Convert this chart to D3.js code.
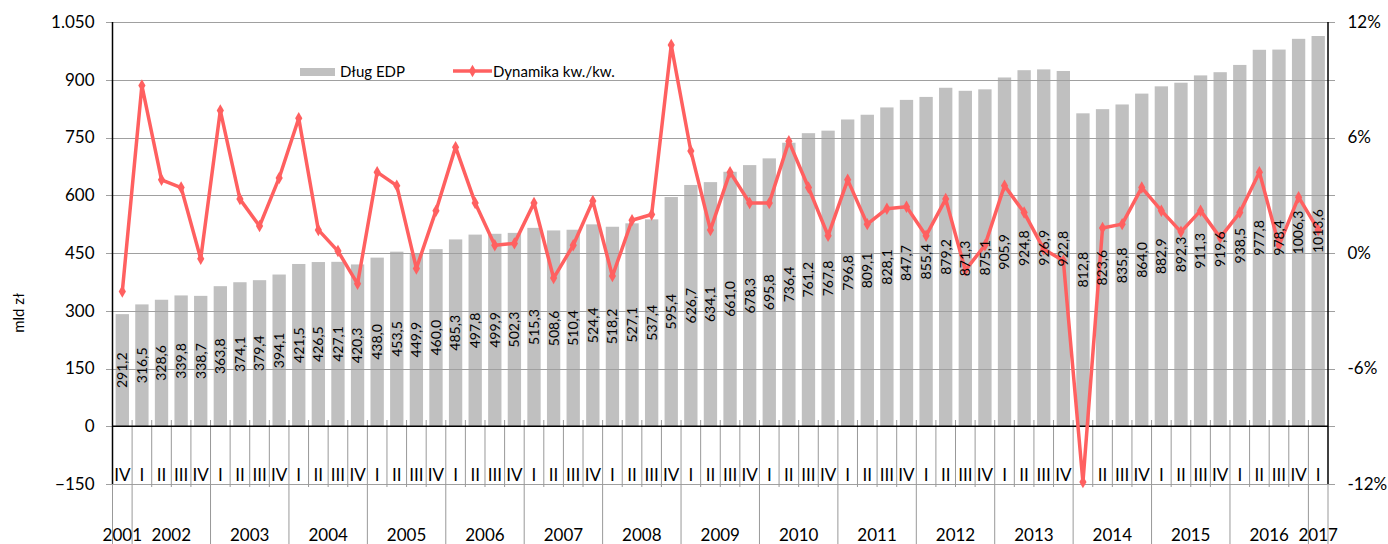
<!DOCTYPE html>
<html>
<head>
<meta charset="utf-8">
<script src="https://cdn.jsdelivr.net/npm/d3@7"></script>
<style>
  body { margin: 0; background: #fff; }
  text { font-family: Lato, "Open Sans", sans-serif; fill: #000; }
</style>
</head>
<body>
<div id="chart"></div>
<script>
// quarters, from 2001 IV to 2017 I
var quarters = ["IV",
  "I","II","III","IV", "I","II","III","IV", "I","II","III","IV", "I","II","III","IV",
  "I","II","III","IV", "I","II","III","IV", "I","II","III","IV", "I","II","III","IV",
  "I","II","III","IV", "I","II","III","IV", "I","II","III","IV", "I","II","III","IV",
  "I","II","III","IV", "I","II","III","IV", "I","II","III","IV",
  "I"];
var years = ["2001","2002","2003","2004","2005","2006","2007","2008","2009",
  "2010","2011","2012","2013","2014","2015","2016","2017"];
var yearLength = [1,4,4,4,4,4,4,4,4,4,4,4,4,4,4,4,1];

// Dług EDP, mld zł
var debt = [291.2, 316.5, 328.6, 339.8, 338.7, 363.8, 374.1, 379.4, 394.1, 421.5,
  426.5, 427.1, 420.3, 438.0, 453.5, 449.9, 460.0, 485.3, 497.8, 499.9,
  502.3, 515.3, 508.6, 510.4, 524.4, 518.2, 527.1, 537.4, 595.4, 626.7,
  634.1, 661.0, 678.3, 695.8, 736.4, 761.2, 767.8, 796.8, 809.1, 828.1,
  847.7, 855.4, 879.2, 871.3, 875.1, 905.9, 924.8, 926.9, 922.8, 812.8,
  823.6, 835.8, 864.0, 882.9, 892.3, 911.3, 919.6, 938.5, 977.8, 978.4,
  1006.3, 1013.6];

// Dynamika kw./kw., %
var dynamics = [-2.0, 8.7, 3.8, 3.4, -0.3, 7.4, 2.8, 1.4, 3.9, 7.0,
  1.2, 0.1, -1.6, 4.2, 3.5, -0.8, 2.2, 5.5, 2.6, 0.4,
  0.5, 2.6, -1.3, 0.4, 2.7, -1.2, 1.7, 2.0, 10.8, 5.3,
  1.2, 4.2, 2.6, 2.6, 5.8, 3.4, 0.9, 3.8, 1.5, 2.3,
  2.4, 0.9, 2.8, -0.9, 0.4, 3.5, 2.1, 0.2, -0.4, -11.9,
  1.3, 1.5, 3.4, 2.2, 1.1, 2.2, 0.8, 2.1, 4.2, 0.4,
  2.9, 1.2];

var leftTicks = [-150, 0, 150, 300, 450, 600, 750, 900, 1050];
var rightTicks = [-12, -6, 0, 6, 12];

var width = 1388, height = 544;
var plotLeft = 112.5, plotRight = 1328, plotTop = 22, plotBottom = 484;
var lineColor = "#ff6060";
var barColor = "#c0c0c0";
var gridColor = "#a0a0a0";

var pl = d3.formatLocale({ decimal: ",", thousands: ".", grouping: [3], currency: ["", " zł"] });
var fmtAxis = pl.format(",.0f");
var fmtLabel = pl.format(".1f");

var svg = d3.select("#chart").append("svg")
  .attr("width", width)
  .attr("height", height);

var x = d3.scaleBand()
  .domain(d3.range(debt.length))
  .range([plotLeft, plotRight])
  .paddingInner(0.32)
  .paddingOuter(0.16);
var step = x.step();
var cx = function(i) { return x(i) + x.bandwidth() / 2; };

var yL = d3.scaleLinear().domain([-150, 1050]).range([plotBottom, plotTop]);
var yR = d3.scaleLinear().domain([-12, 12]).range([plotBottom, plotTop]);

// bars
svg.append("g").selectAll("rect")
  .data(debt)
  .enter().append("rect")
  .attr("x", function(d, i) { return x(i); })
  .attr("width", x.bandwidth())
  .attr("y", function(d) { return yL(d); })
  .attr("height", function(d) { return yL(0) - yL(d); })
  .attr("fill", barColor);

// gridlines (drawn over the bars, like in the original)
svg.append("g").selectAll("line")
  .data(leftTicks)
  .enter().append("line")
  .attr("x1", plotLeft - 6.5).attr("x2", plotRight + 7)
  .attr("y1", function(d) { return Math.round(yL(d)) + 0.5; })
  .attr("y2", function(d) { return Math.round(yL(d)) + 0.5; })
  .attr("stroke", gridColor)
  .attr("stroke-width", 1.2);

// category separators
var bounds = d3.range(debt.length + 1);
var yearStart = [0];
yearLength.forEach(function(n, i) { yearStart.push(yearStart[i] + n); });
svg.append("g").selectAll("line")
  .data(bounds)
  .enter().append("line")
  .attr("x1", function(i) { return plotLeft + i * step; })
  .attr("x2", function(i) { return plotLeft + i * step; })
  .attr("y1", function(i) { return (i === 0 || i === debt.length) ? plotBottom : 420; })
  .attr("y2", function(i) { return yearStart.indexOf(i) >= 0 ? height : 487; })
  .attr("stroke", "#999")
  .attr("stroke-width", 1);

// zero line and axis frames
svg.append("line")
  .attr("x1", plotLeft).attr("x2", plotRight)
  .attr("y1", yL(0)).attr("y2", yL(0))
  .attr("stroke", "#000").attr("stroke-width", 1.5);
svg.append("line")
  .attr("x1", plotLeft).attr("x2", plotLeft)
  .attr("y1", plotTop).attr("y2", plotBottom)
  .attr("stroke", "#000").attr("stroke-width", 1.5);
svg.append("line")
  .attr("x1", plotRight).attr("x2", plotRight)
  .attr("y1", plotTop).attr("y2", plotBottom)
  .attr("stroke", "#000").attr("stroke-width", 1.5);

// left axis labels
var axL = svg.append("g")
  .attr("transform", "translate(" + plotLeft + ",0)")
  .call(d3.axisLeft(yL).tickValues(leftTicks).tickFormat(fmtAxis).tickSize(0).tickPadding(18));
axL.select(".domain").remove();
axL.selectAll("text").style("font-size", "17px").style("font-family", "Lato");

// right axis labels
var axR = svg.append("g")
  .attr("transform", "translate(" + plotRight + ",0)")
  .call(d3.axisRight(yR).tickValues(rightTicks).tickFormat(function(d) { return d + "%"; }).tickSize(0).tickPadding(19.5));
axR.select(".domain").remove();
axR.selectAll("text").style("font-size", "17px").style("font-family", "Lato");

// y title
svg.append("text")
  .attr("transform", "translate(24,313) rotate(-90)")
  .attr("text-anchor", "middle")
  .style("font-size", "15px")
  .text("mld zł");

// quarter labels
svg.append("g").selectAll("text")
  .data(quarters)
  .enter().append("text")
  .attr("x", function(d, i) { return cx(i); })
  .attr("y", 481)
  .attr("text-anchor", "middle")
  .style("font-size", "17px")
  .text(function(d) { return d; });

// year labels
svg.append("g").selectAll("text")
  .data(years)
  .enter().append("text")
  .attr("x", function(d, i) { return plotLeft + (yearStart[i] + yearLength[i] / 2) * step; })
  .attr("y", 541)
  .attr("text-anchor", "middle")
  .style("font-size", "17px")
  .text(function(d) { return d; });

// dynamics line
var line = d3.line()
  .x(function(d, i) { return cx(i); })
  .y(function(d) { return yR(d); });

svg.append("path")
  .datum(dynamics)
  .attr("d", line)
  .attr("fill", "none")
  .attr("stroke", lineColor)
  .attr("stroke-width", 3.5)
  .attr("stroke-linejoin", "round");

var diamond = d3.symbol().type(d3.symbolDiamond).size(45);
svg.append("g").selectAll("path")
  .data(dynamics)
  .enter().append("path")
  .attr("d", diamond)
  .attr("transform", function(d, i) { return "translate(" + cx(i) + "," + yR(d) + ")"; })
  .attr("fill", lineColor);

// bar value labels
svg.append("g").selectAll("text")
  .data(debt)
  .enter().append("text")
  .attr("transform", function(d, i) {
    return "translate(" + cx(i) + "," + ((yL(0) + yL(d)) / 2) + ") rotate(-90)";
  })
  .attr("text-anchor", "middle")
  .attr("dy", "0.35em")
  .style("font-size", "14px")
  .text(function(d) { return fmtLabel(d); });

// legend
var lg = svg.append("g");
lg.append("rect")
  .attr("x", 300).attr("y", 68)
  .attr("width", 35).attr("height", 8)
  .attr("fill", barColor);
lg.append("text")
  .attr("x", 340).attr("y", 72).attr("dy", "0.35em")
  .style("font-size", "15px")
  .text("Dług EDP");
lg.append("line")
  .attr("x1", 453).attr("x2", 492)
  .attr("y1", 71).attr("y2", 71)
  .attr("stroke", lineColor).attr("stroke-width", 3.5);
lg.append("path")
  .attr("d", diamond)
  .attr("transform", "translate(472.5,71)")
  .attr("fill", lineColor);
lg.append("text")
  .attr("x", 493).attr("y", 72).attr("dy", "0.35em")
  .style("font-size", "15px")
  .text("Dynamika kw./kw.");
</script>
</body>
</html>
